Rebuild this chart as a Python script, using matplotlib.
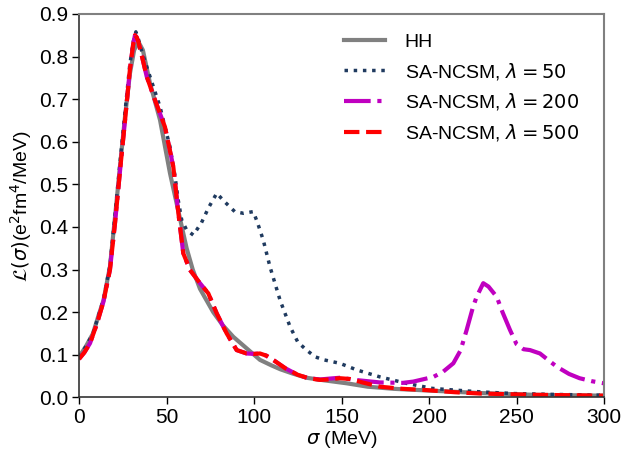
import matplotlib
matplotlib.use("Agg")
import matplotlib.pyplot as plt

plt.rcParams['font.family'] = ['Liberation Sans', 'DejaVu Sans']
plt.rcParams['mathtext.fontset'] = 'dejavusans'

# HH
hh_x = [0, 4, 8, 11, 14, 17.7, 20.6, 23.4, 26.3, 29.1, 31.5, 33.9, 36.5, 40.6, 46.3, 52, 55,
        57.7, 61.5, 65, 69.1, 76.7, 82, 88.2, 95.8, 103.4, 110, 115, 122, 130, 140, 153, 165,
        180, 200, 230, 260, 300]
hh_y = [0.095, 0.12, 0.15, 0.19, 0.228, 0.307, 0.424, 0.541, 0.659, 0.76, 0.815, 0.835, 0.815,
        0.737, 0.651, 0.526, 0.47, 0.42, 0.35, 0.30, 0.255, 0.20, 0.17, 0.142, 0.115, 0.088,
        0.075, 0.066, 0.056, 0.046, 0.04, 0.033, 0.025, 0.02, 0.016, 0.01, 0.006, 0.004]

# SA-NCSM lambda = 50
l50_x = [0, 4, 8, 11, 14, 17.7, 20.6, 23.4, 26.3, 29, 31, 32.5, 34, 36, 38.7, 42.5, 46.3, 49.1,
         52, 54.9, 56.7, 58.7, 61.5, 65.3, 70, 74, 78.7, 83, 89, 94, 99.6, 102, 105.3, 109.1,
         114.9, 120.6, 125, 130, 135, 140, 149, 159, 172, 187, 202, 215, 229, 248, 270, 300]
l50_y = [0.095, 0.12, 0.15, 0.19, 0.23, 0.31, 0.43, 0.55, 0.67, 0.78, 0.835, 0.858, 0.84, 0.81,
         0.776, 0.729, 0.682, 0.635, 0.588, 0.518, 0.463, 0.416, 0.393, 0.381, 0.41, 0.445, 0.479,
         0.46, 0.436, 0.432, 0.436, 0.41, 0.369, 0.307, 0.228, 0.166, 0.13, 0.111, 0.095, 0.088,
         0.08, 0.064, 0.048, 0.033, 0.021, 0.017, 0.013, 0.009, 0.007, 0.005]

# SA-NCSM lambda = 200
l200_x = [0, 3, 6.3, 10, 14, 17.7, 20.6, 23.4, 26.3, 29.1, 31, 32, 33, 33.9, 36, 38.7, 43.4,
          49.1, 53.9, 56.8, 59.6, 63.4, 66, 69.1, 73.9, 78.7, 84.4, 90.1, 95.8, 100, 103.4, 107,
          112, 118, 125, 131, 137.7, 143, 149, 160, 172, 185, 191, 202.5, 208, 213.9, 218, 221.5,
          225, 227.2, 231, 234, 238.7, 242, 246.3, 250, 254, 257.7, 263.4, 268, 273, 280, 286,
          293, 300]
l200_y = [0.09, 0.105, 0.127, 0.17, 0.225, 0.3, 0.41, 0.53, 0.65, 0.77, 0.83, 0.85, 0.845,
          0.835, 0.80, 0.753, 0.698, 0.635, 0.541, 0.432, 0.338, 0.299, 0.285, 0.268, 0.244,
          0.197, 0.15, 0.111, 0.103, 0.102, 0.103, 0.098, 0.085, 0.068, 0.053, 0.045, 0.042,
          0.044, 0.046, 0.04, 0.035, 0.034, 0.037, 0.048, 0.06, 0.08, 0.11, 0.158, 0.21, 0.236,
          0.268, 0.26, 0.236, 0.2, 0.158, 0.125, 0.113, 0.111, 0.103, 0.088, 0.072, 0.055, 0.045,
          0.038, 0.033]

# SA-NCSM lambda = 500
l500_x = [0, 3, 6.3, 10, 14, 17.7, 20.6, 23.4, 26.3, 29.1, 31, 32, 33, 33.9, 36, 38.7, 43.4,
          49.1, 53.9, 56.8, 59.6, 63.4, 66, 69.1, 73.9, 78.7, 84.4, 90.1, 95.8, 100, 103.4, 107,
          112, 118, 125, 131, 137.7, 143, 149, 155, 162, 172, 185, 198.7, 215, 229, 260, 300]
l500_y = [0.09, 0.105, 0.127, 0.17, 0.225, 0.3, 0.41, 0.53, 0.65, 0.77, 0.83, 0.85, 0.845,
          0.835, 0.80, 0.753, 0.698, 0.635, 0.541, 0.432, 0.338, 0.299, 0.285, 0.268, 0.244,
          0.197, 0.15, 0.111, 0.103, 0.102, 0.103, 0.098, 0.085, 0.068, 0.053, 0.045, 0.041,
          0.042, 0.045, 0.043, 0.035, 0.025, 0.02, 0.017, 0.012, 0.009, 0.006, 0.004]

labels = ['HH', r'SA-NCSM, $\lambda = 50$', r'SA-NCSM, $\lambda = 200$', r'SA-NCSM, $\lambda = 500$']
xticks = [0, 50, 100, 150, 200, 250, 300]
yticks = [0.0, 0.1, 0.2, 0.3, 0.4, 0.5, 0.6, 0.7, 0.8, 0.9]

fig = plt.figure(figsize=(6.33, 4.49), dpi=100)
ax = fig.add_axes([0.1248, 0.115, 0.8294, 0.854])

ax.plot(hh_x, hh_y, color='#808080', lw=3, ls='-', label=labels[0])
ax.plot(l50_x, l50_y, color='#1f3a5f', lw=2.5, ls=':', label=labels[1])
ax.plot(l200_x, l200_y, color='#c000c0', lw=3, ls='-.', label=labels[2])
ax.plot(l500_x, l500_y, color='#ff0000', lw=3, ls='--', label=labels[3])

ax.set_xlim(0, 300)
ax.set_ylim(0, 0.9)
ax.set_xticks(xticks)
ax.set_xticklabels([str(t) for t in xticks])
ax.set_yticks(yticks)
ax.set_yticklabels([f'{t:.1f}' for t in yticks])
ax.tick_params(labelsize=15, direction='out', length=5, width=1, pad=3)

ax.set_xlabel(r'$\sigma$ (MeV)', fontsize=14, labelpad=1)
ax.set_ylabel(r'$\mathcal{L}(\sigma)$(e$^2$fm$^4$/MeV)', fontsize=14, labelpad=3)

for s in ['top', 'right']:
    ax.spines[s].set_color('#808080')
    ax.spines[s].set_linewidth(1.5)
for s in ['left', 'bottom']:
    ax.spines[s].set_color('#333333')
    ax.spines[s].set_linewidth(1.2)

ax.legend(loc='upper right', frameon=False, fontsize=14, handlelength=2.1,
          bbox_to_anchor=(0.985, 0.995), labelspacing=0.5, handletextpad=1.0)

fig.savefig('out.png', dpi=100)
